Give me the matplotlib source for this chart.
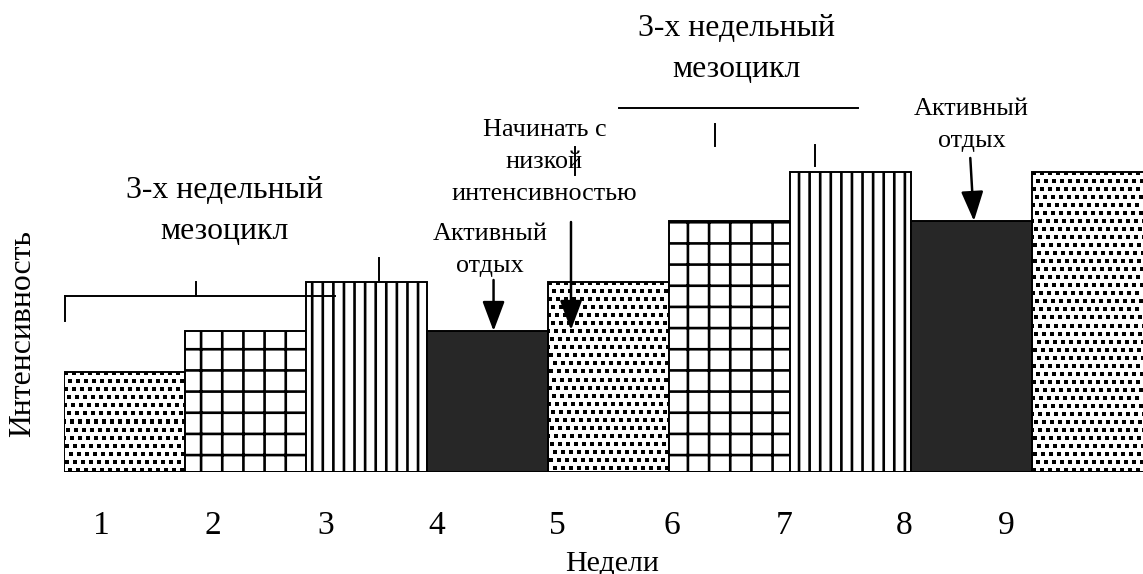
import numpy as np
import matplotlib
matplotlib.use("Agg")
import matplotlib.pyplot as plt

plt.rcParams['font.family'] = ['Liberation Serif', 'DejaVu Serif']

# weeks (bars) and their relative intensity
weeks = [1, 2, 3, 4, 5, 6, 7, 8, 9]
intensity = [10.0, 14.1, 19.0, 14.1, 19.0, 25.1, 30.0, 25.1, 30.0]
fills = ['dots', 'grid', 'lines', 'dark', 'dots', 'grid', 'lines', 'dark', 'dots']

# tick labels sit under the bars at uneven places (as in the original)
tick_pos = [0.31, 1.23, 2.16, 3.08, 4.08, 5.02, 5.95, 6.94, 7.79]
tick_text = ['1', '2', '3', '4', '5', '6', '7', '8', '9']

# bracket pieces (data units)
brackets = [
    ([0.01, 0.01], [15.1, 17.6]),
    ([0.01, 2.24], [17.6, 17.6]),
    ([1.09, 1.09], [17.6, 19.0]),
    ([2.60, 2.60], [19.2, 21.4]),
    ([4.59, 6.56], [36.4, 36.4]),
    ([5.38, 5.38], [32.6, 34.8]),
    ([6.21, 6.21], [30.6, 32.7]),
    ([4.22, 4.22], [29.7, 32.5]),
]

# arrows: (start, end)
arrows = [
    ((3.55, 19.2), (3.55, 14.1)),
    ((4.19, 25.0), (4.19, 14.2)),
    ((7.49, 31.4), (7.52, 25.1)),
]


def dots_texture(w, h):
    yy, xx = np.mgrid[0:h, 0:w]
    row = yy // 8
    shift = (row % 2) * 4 + row // 3
    inside = (((xx + shift) % 8) < 4) & ((yy % 8) < 4)
    return np.where(inside, 0.0, 1.0)


fig = plt.figure(figsize=(9, 4.52), dpi=127)
ax = fig.add_axes([64 / 1143, (574 - 472) / 574, 1079 / 1143, 472 / 574])
ax.set_xlim(0, 1079 / 121)
ax.set_ylim(0, 47.2)

lw = 1.1
for i, (h, f) in enumerate(zip(intensity, fills)):
    if f == 'dots':
        bar = ax.bar(i, h, width=1, align='edge', facecolor='none',
                     edgecolor='black', linewidth=lw, zorder=3)[0]
        p0 = ax.transData.transform((i, 0))
        p1 = ax.transData.transform((i + 1, h))
        tw, th = int(round(p1[0] - p0[0])), int(round(p1[1] - p0[1]))
        im = ax.imshow(dots_texture(tw, th), cmap='gray', vmin=0, vmax=1,
                       extent=(i, i + 1, 0, h), origin='upper',
                       aspect='auto', interpolation='nearest', zorder=2)
        im.set_clip_path(bar)
    elif f == 'grid':
        with plt.rc_context({'hatch.linewidth': 1.5}):
            ax.bar(i, h, width=1, align='edge', facecolor='white',
                   edgecolor='black', linewidth=lw, hatch='+', zorder=3)
    elif f == 'lines':
        with plt.rc_context({'hatch.linewidth': 1.5}):
            ax.bar(i, h, width=1, align='edge', facecolor='white',
                   edgecolor='black', linewidth=lw, hatch='||', zorder=3)
    else:
        ax.bar(i, h, width=1, align='edge', facecolor='#272727',
               edgecolor='black', linewidth=lw, zorder=3)

ax.axhline(0, color='black', linewidth=1.6, zorder=4)

for xs, ys in brackets:
    ax.plot(xs, ys, color='black', linewidth=1.1, zorder=5, clip_on=False)

for (x0, y0), (x1, y1) in arrows:
    ax.annotate('', xy=(x1, y1), xytext=(x0, y0), zorder=6,
                arrowprops=dict(arrowstyle='-|>,head_width=0.3,head_length=0.8',
                                color='black', lw=1.4, mutation_scale=18,
                                shrinkA=0, shrinkB=0))

big = 18
small = 14.8
ax.text(1.33, 23.3, '3-х недельный\nмезоцикл', ha='center', va='baseline',
        fontsize=big, linespacing=1.56)
ax.text(5.56, 39.5, '3-х недельный\nмезоцикл', ha='center', va='baseline',
        fontsize=big, linespacing=1.56)
ax.text(3.97, 27.2, 'Начинать с\nнизкой\nинтенсивностью', ha='center',
        va='baseline', fontsize=small, linespacing=1.59)
ax.text(3.52, 20.0, 'Активный\nотдых', ha='center', va='baseline',
        fontsize=small, linespacing=1.59)
ax.text(7.50, 32.5, 'Активный\nотдых', ha='center', va='baseline',
        fontsize=small, linespacing=1.59)

ax.set_xticks(tick_pos)
ax.set_xticklabels(tick_text, fontsize=19)
ax.tick_params(axis='x', length=0, pad=22)
ax.set_yticks([])
for s in ax.spines.values():
    s.set_visible(False)

fig.text(612 / 1143, 1 - 570 / 574, 'Недели', ha='center', va='baseline',
         fontsize=17)
fig.text(23 / 1143, 1 - 333 / 574, 'Интенсивность', ha='center', va='center',
         rotation=90, fontsize=18)

fig.savefig('out.png', dpi=127)
